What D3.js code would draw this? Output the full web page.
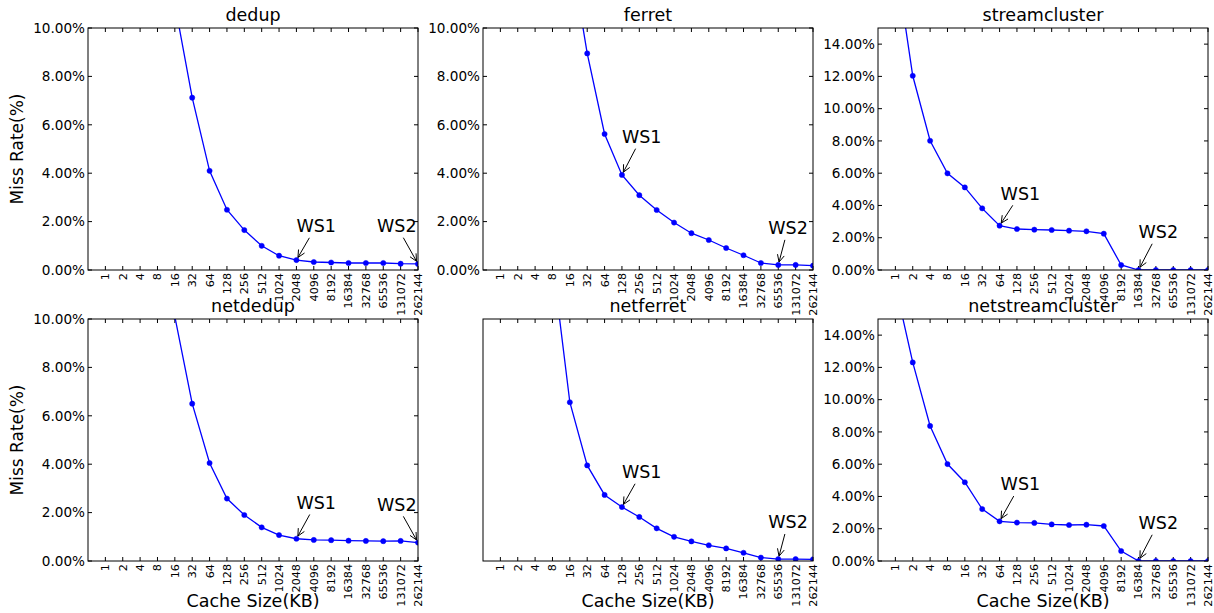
<!DOCTYPE html>
<html>
<head>
<meta charset="utf-8">
<script src="https://cdn.jsdelivr.net/npm/d3@7"></script>
<style>
  body { margin: 0; background: #fff; }
  svg { font-family: "DejaVu Sans", sans-serif; }
</style>
</head>
<body>
<svg id="chart" width="1214" height="613"></svg>
<script>
// cache sizes (KB) on the x axis
const cacheSizes = ["1", "2", "4", "8", "16", "32", "64", "128", "256", "512", "1024", "2048",
    "4096", "8192", "16384", "32768", "65536", "131072", "262144"];

// miss rates in percent, one per cache size (first few are above the visible range)
const dedup = [48, 36, 26, 17, 11.0, 7.12, 4.10, 2.49, 1.65, 1.00, 0.59, 0.41, 0.33, 0.31, 0.29, 0.29, 0.29, 0.26, 0.25];
const ferret = [55, 45, 34, 22, 13.3, 8.95, 5.62, 3.93, 3.09, 2.48, 1.96, 1.52, 1.24, 0.91, 0.61, 0.29, 0.21, 0.21, 0.18];
const streamcluster = [19.3, 12.04, 8.01, 5.99, 5.12, 3.82, 2.75, 2.54, 2.50, 2.48, 2.44, 2.40, 2.25, 0.31, 0, 0, 0, 0, 0];
const netdedup = [45, 33, 24, 15.5, 10.1, 6.50, 4.05, 2.58, 1.90, 1.39, 1.07, 0.92, 0.87, 0.86, 0.84, 0.83, 0.82, 0.83, 0.76];
const netferret = [35, 26, 18, 12.4, 6.56, 3.95, 2.73, 2.23, 1.82, 1.35, 1.00, 0.81, 0.65, 0.52, 0.34, 0.14, 0.08, 0.08, 0.07];
const netstreamcluster = [17.1, 12.31, 8.37, 6.01, 4.88, 3.22, 2.46, 2.38, 2.36, 2.27, 2.23, 2.25, 2.17, 0.62, 0, 0, 0, 0, 0];

const panelNames = ["dedup", "ferret", "streamcluster", "netdedup", "netferret", "netstreamcluster"];
const panelSeries = [dedup, ferret, streamcluster, netdedup, netferret, netstreamcluster];
const panelYMax = [10, 10, 15, 10, 10, 15];
const panelShowY = [true, true, true, true, false, true];

// working set annotations: panel, cache size, label, text offset from point
const annotations = [
    [0, "2048", "WS1", 0, -28], [0, "262144", "WS2", -41, -32],
    [1, "128", "WS1", 0, -32], [1, "65536", "WS2", -10, -31],
    [2, "64", "WS1", 1, -26], [2, "16384", "WS2", 0, -32],
    [3, "2048", "WS1", 0, -30], [3, "262144", "WS2", -41, -32],
    [4, "128", "WS1", 0, -29], [4, "65536", "WS2", -10, -31],
    [5, "64", "WS1", 1, -31], [5, "16384", "WS2", 0, -32]
];

const svg = d3.select("#chart");
const colX = [88, 483, 878], rowY = [28, 319];
const pw = 330, ph = 242;
const blue = "#0000ff";

const defs = svg.append("defs");

panelNames.forEach((name, i) => {
    const col = i % 3, row = Math.floor(i / 3);
    const g = svg.append("g").attr("transform", `translate(${colX[col]},${rowY[row]})`);

    const x = d3.scaleLinear().domain([0, cacheSizes.length]).range([0, pw]);
    const xPos = s => x(cacheSizes.indexOf(s) + 1);
    const y = d3.scaleLinear().domain([0, panelYMax[i]]).range([ph, 0]);
    const yTicks = d3.range(0, panelYMax[i] + 0.001, 2);

    defs.append("clipPath").attr("id", "clip" + i)
        .append("rect").attr("width", pw).attr("height", ph);

    // x ticks inside, bottom and top
    const xt = g.append("g");
    cacheSizes.forEach(s => {
        xt.append("line").attr("x1", xPos(s)).attr("x2", xPos(s)).attr("y1", ph).attr("y2", ph - 4)
            .attr("stroke", "#000").attr("stroke-width", 1);
        xt.append("line").attr("x1", xPos(s)).attr("x2", xPos(s)).attr("y1", 0).attr("y2", 4)
            .attr("stroke", "#000").attr("stroke-width", 1);
        xt.append("text")
            .attr("transform", `translate(${xPos(s)},${ph + 3}) rotate(-90)`)
            .attr("text-anchor", "end").attr("dy", "0.35em")
            .attr("font-size", 11.2).attr("fill", "#000")
            .text(s);
    });

    // y ticks inside, left and right
    if (panelShowY[i]) {
        const yt = g.append("g");
        yTicks.forEach(v => {
            yt.append("line").attr("x1", 0).attr("x2", 4).attr("y1", y(v)).attr("y2", y(v))
                .attr("stroke", "#000");
            yt.append("line").attr("x1", pw).attr("x2", pw - 4).attr("y1", y(v)).attr("y2", y(v))
                .attr("stroke", "#000");
            yt.append("text").attr("x", -3).attr("y", y(v)).attr("dy", "0.35em")
                .attr("text-anchor", "end").attr("font-size", 13.6).attr("fill", "#000")
                .text(d3.format(".2f")(v) + "%");
        });
    }

    // data line and markers
    const data = panelSeries[i].map((v, k) => ({ s: cacheSizes[k], v: v }));
    const plot = g.append("g").attr("clip-path", `url(#clip${i})`);
    plot.append("path").datum(data)
        .attr("d", d3.line().x(d => xPos(d.s)).y(d => y(d.v)))
        .attr("fill", "none").attr("stroke", blue).attr("stroke-width", 1.3);
    plot.selectAll("circle").data(data).enter().append("circle")
        .attr("cx", d => xPos(d.s)).attr("cy", d => y(d.v)).attr("r", 2.6)
        .attr("fill", blue).attr("stroke", blue).attr("stroke-width", 0.5);

    // frame
    g.append("rect").attr("width", pw).attr("height", ph)
        .attr("fill", "none").attr("stroke", "#000").attr("stroke-width", 1);

    // title
    g.append("text").attr("x", pw / 2).attr("y", -7).attr("text-anchor", "middle")
        .attr("font-size", 17.5).attr("fill", "#000").text(name);

    // annotations
    annotations.filter(a => a[0] === i).forEach(a => {
        const px = xPos(a[1]), py = y(panelSeries[i][cacheSizes.indexOf(a[1])]);
        const t = g.append("text").attr("x", px + a[3]).attr("y", py + a[4])
            .attr("font-size", 17.5).attr("fill", "#000").text(a[2]);
        const bb = t.node().getBBox();
        const cx = bb.x + bb.width / 2, cy = bb.y + bb.height / 2;
        const dx = px - cx, dy = py - cy, len = Math.hypot(dx, dy);
        const ux = dx / len, uy = dy / len;
        const tb = (bb.y + bb.height - cy) / uy;
        const sx = cx + ux * (tb + 2), sy = cy + uy * (tb + 2);
        const ex = px - ux * 3, ey = py - uy * 3;
        const ang = Math.atan2(uy, ux), hl = 8, ha = 0.45;
        const h1 = [ex - hl * Math.cos(ang - ha), ey - hl * Math.sin(ang - ha)];
        const h2 = [ex - hl * Math.cos(ang + ha), ey - hl * Math.sin(ang + ha)];
        g.append("path")
            .attr("d", `M${sx},${sy}L${ex},${ey}M${h1[0]},${h1[1]}L${ex},${ey}L${h2[0]},${h2[1]}`)
            .attr("fill", "none").attr("stroke", "#000").attr("stroke-width", 1);
    });

    // axis labels
    if (col === 0) {
        svg.append("text")
            .attr("transform", `translate(${17.5},${rowY[row] + ph / 2}) rotate(-90)`)
            .attr("text-anchor", "middle").attr("dy", "0.35em")
            .attr("font-size", 17).attr("fill", "#000").text("Miss Rate(%)");
    }
    if (row === 1) {
        svg.append("text").attr("x", colX[col] + pw / 2).attr("y", 607)
            .attr("text-anchor", "middle").attr("font-size", 17.5).attr("fill", "#000")
            .text("Cache Size(KB)");
    }
});
</script>
</body>
</html>
